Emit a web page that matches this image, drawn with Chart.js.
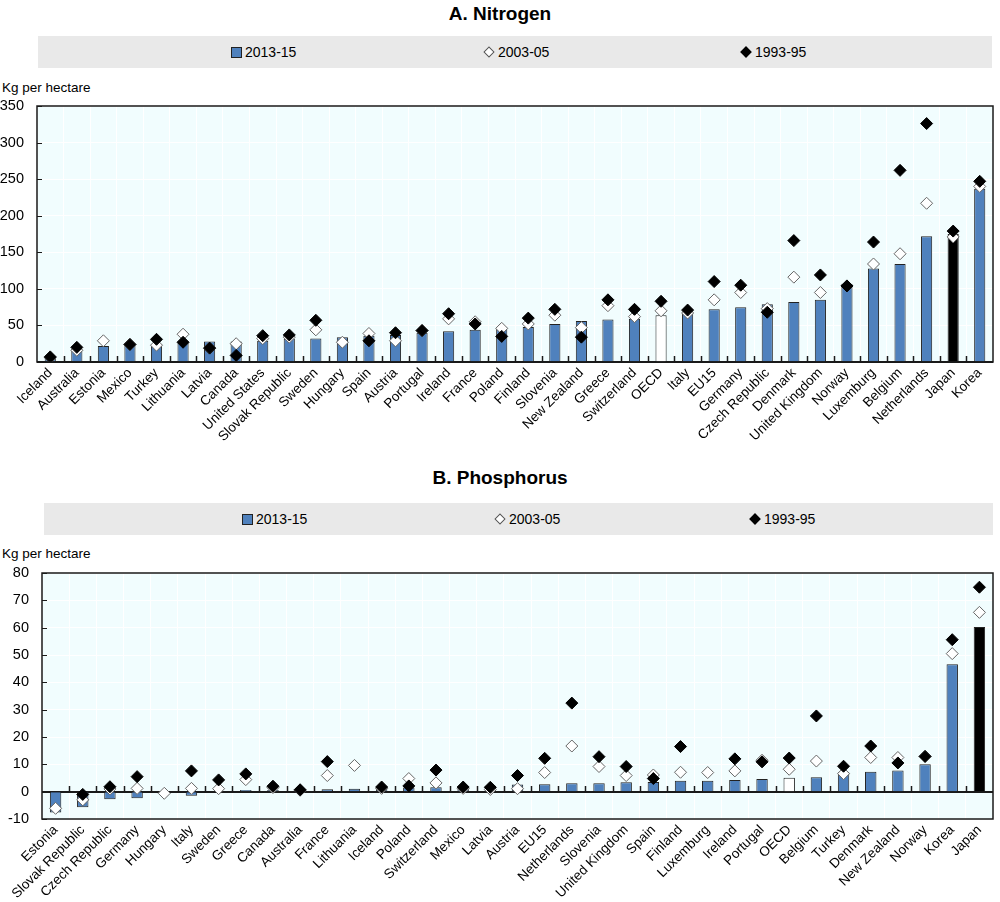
<!DOCTYPE html>
<html>
<head>
<meta charset="utf-8">
<script src="https://cdn.jsdelivr.net/npm/chart.js@4.4.1/dist/chart.umd.min.js"></script>
<style>
  html, body { margin:0; padding:0; background:#fff; width:1000px; height:902px; overflow:hidden; }
  body { position:relative; font-family:"Liberation Sans", Arial, sans-serif; color:#000; }
  .title { position:absolute; left:0; width:1000px; text-align:center; font-weight:bold; font-size:19px; }
  .legend { position:absolute; background:#e9e9e9; height:32px; }
  .item { position:absolute; top:0; height:32px; line-height:32px; font-size:14px; white-space:nowrap; }
  .sq { display:inline-block; width:9px; height:9px; background:#4f81bd; border:1px solid #222; margin-right:3px; vertical-align:-1px; }
  .dm { display:inline-block; width:6px; height:6px; transform:rotate(45deg); margin-right:5px; vertical-align:1px; }
  .dw { background:#fff; border:1px solid #555; }
  .db { background:#000; border:1px solid #000; }
  .unit { position:absolute; font-size:13.5px; left:2px; }
  canvas { position:absolute; left:0; }
</style>
</head>
<body>
<div class="title" style="top:3px;">A. Nitrogen</div>
<div class="legend" style="left:38px; top:36px; width:954px;">
  <div class="item" style="left:193px;"><span class="sq"></span>2013-15</div>
  <div class="item" style="left:447px;"><span class="dm dw"></span>2003-05</div>
  <div class="item" style="left:704px;"><span class="dm db"></span>1993-95</div>
</div>
<div class="unit" style="top:80px;">Kg per hectare</div>
<canvas id="c1" width="1000" height="354" style="top:96px;"></canvas>

<div class="title" style="top:467px;">B. Phosphorus</div>
<div class="legend" style="left:44px; top:503px; width:949px;">
  <div class="item" style="left:198px;"><span class="sq"></span>2013-15</div>
  <div class="item" style="left:452px;"><span class="dm dw"></span>2003-05</div>
  <div class="item" style="left:707px;"><span class="dm db"></span>1993-95</div>
</div>
<div class="unit" style="top:546px;">Kg per hectare</div>
<canvas id="c2" width="1000" height="342" style="top:560px;"></canvas>

<script>
// ---------- Data: A. Nitrogen ----------
const categoriesN = ['Iceland','Australia','Estonia','Mexico','Turkey','Lithuania','Latvia','Canada','United States','Slovak Republic','Sweden','Hungary','Spain','Austria','Portugal','Ireland','France','Poland','Finland','Slovenia','New Zealand','Greece','Switzerland','OECD','Italy','EU15','Germany','Czech Republic','Denmark','United Kingdom','Norway','Luxemburg','Belgium','Netherlands','Japan','Korea'];
const nitrogen2013 = [8,18,22,24,24,27,28,28,29,32,32,34,36,37,40,42,44,47,48,52,56,58,59,64,68,72,75,79,82,85,107,128,134,172,175,237];
const nitrogen2003 = [6,16,29,24,23,38,19,25,32,34,44,27,39,29,43,59,55,46,52,64,47,77,62,70,67,85,95,73,116,95,104,134,148,217,171,240];
const nitrogen1993 = [7,20,null,24,31,27,19,9,36,37,57,null,29,40,43,66,52,35,60,72,34,85,72,83,71,110,105,68,166,119,104,164,262,326,179,247];
const ticksN = [0,50,100,150,200,250,300,350];

// ---------- Data: B. Phosphorus ----------
const categoriesP = ['Estonia','Slovak Republic','Czech Republic','Germany','Hungary','Italy','Sweden','Greece','Canada','Australia','France','Lithuania','Iceland','Poland','Switzerland','Mexico','Latvia','Austria','EU15','Netherlands','Slovenia','United Kingdom','Spain','Finland','Luxemburg','Ireland','Portugal','OECD','Belgium','Turkey','Denmark','New Zealand','Norway','Korea','Japan'];
const phosphorus2013 = [-7.6,-5.7,-2.8,-2.4,-0.3,-1.5,0.1,0.6,0.6,0.3,0.9,1.1,1.5,1.5,1.6,1.5,2.2,2.6,2.7,3.1,3.1,3.4,3.5,4.0,4.0,4.3,4.6,5.1,5.3,7.1,7.3,7.7,10.0,46.6,60.2];
const phosphorus2003 = [-6.1,-3.0,1.0,1.2,-0.6,1.2,1.1,4.4,1.5,0.5,5.9,9.6,1.2,4.8,3.2,1.2,0.8,1.1,7.0,16.7,9.2,5.9,6.1,7.1,7.0,7.6,11.5,8.2,11.2,6.6,12.5,12.5,12.9,50.5,65.6];
const phosphorus1993 = [null,-1.0,1.8,5.5,null,7.6,4.3,6.5,2.0,0.7,11.0,null,1.7,2.1,7.9,1.7,1.6,5.9,12.2,32.4,12.8,9.2,4.8,16.5,null,12.0,10.9,12.3,27.7,9.3,16.7,10.5,12.9,55.6,74.8];
const ticksP = [-10,0,10,20,30,40,50,60,70,80];

const seriesLabels = ['2013-15','2003-05','1993-95'];

const FONT = '"Liberation Sans", Arial, sans-serif';
const BLUE = '#4f81bd';

function barColors(cats) {
  return cats.map(c => c === 'OECD' ? '#ffffff' : (c === 'Japan' ? '#000000' : BLUE));
}

const decor = {
  id: 'decor',
  beforeDraw(chart) {
    const a = chart.chartArea, ctx = chart.ctx;
    ctx.save();
    ctx.fillStyle = '#f1fdfe';
    ctx.fillRect(a.left, a.top, a.right - a.left, a.bottom - a.top);
    ctx.restore();
  },
  beforeDatasetsDraw(chart) {
    const a = chart.chartArea, ctx = chart.ctx;
    const x = chart.scales.x, y = chart.scales.y;
    const y0 = Math.round(y.getPixelForValue(0));
    ctx.save();
    ctx.strokeStyle = '#1a1a1a';
    ctx.lineWidth = 2;
    ctx.beginPath(); ctx.moveTo(a.left, y0); ctx.lineTo(a.right, y0); ctx.stroke();
    ctx.lineWidth = 1.5;
    const n = chart.data.labels.length;
    for (let i = 1; i < n; i++) {
      const xb = Math.round((x.getPixelForValue(i - 1) + x.getPixelForValue(i)) / 2) + 0.5;
      ctx.beginPath(); ctx.moveTo(xb, y0); ctx.lineTo(xb, y0 - 6); ctx.stroke();
    }
    ctx.restore();
  },
  afterDraw(chart) {
    const a = chart.chartArea, ctx = chart.ctx;
    const y = chart.scales.y;
    ctx.save();
    ctx.strokeStyle = '#1a1a1a';
    ctx.lineWidth = 1.5;
    ctx.strokeRect(a.left, a.top, a.right - a.left, a.bottom - a.top);
    ctx.lineWidth = 1;
    y.ticks.forEach(t => {
      const yy = Math.round(y.getPixelForValue(t.value)) + 0.5;
      ctx.beginPath(); ctx.moveTo(a.left, yy); ctx.lineTo(a.left + 5, yy); ctx.stroke();
    });
    ctx.restore();
  }
};

function makeChart(id, cats, v13, v03, v93, tickVals, yAxisWidth, xAxisHeight, padTop, padRight) {
  return new Chart(document.getElementById(id), {
    type: 'bar',
    data: {
      labels: cats,
      datasets: [
        { type: 'bar', label: seriesLabels[0], data: v13, backgroundColor: barColors(cats),
          borderColor: '#222', borderWidth: 1, barPercentage: 0.42, categoryPercentage: 1, order: 2 },
        { type: 'line', label: seriesLabels[1], data: v03, showLine: false, pointStyle: 'rectRot',
          pointRadius: 6, pointBackgroundColor: '#fff', pointBorderColor: '#666', pointBorderWidth: 1, order: 1 },
        { type: 'line', label: seriesLabels[2], data: v93, showLine: false, pointStyle: 'rectRot',
          pointRadius: 6, pointBackgroundColor: '#000', pointBorderColor: '#000', pointBorderWidth: 1, order: 0 }
      ]
    },
    options: {
      responsive: false, animation: false, devicePixelRatio: 1,
      layout: { padding: { top: padTop, right: padRight, left: 0, bottom: 0 } },
      plugins: { legend: { display: false }, tooltip: { enabled: false } },
      scales: {
        x: {
          offset: true,
          grid: { color: '#ffffff', lineWidth: 1, drawTicks: false, offset: true },
          border: { display: false },
          ticks: { autoSkip: false, maxRotation: 45, minRotation: 45, color: '#000', padding: 3,
                   font: { size: 13.5, family: FONT } },
          afterFit(s) { s.height = xAxisHeight; s.paddingLeft = 0; s.paddingRight = 0; }
        },
        y: {
          min: tickVals[0], max: tickVals[tickVals.length - 1],
          afterBuildTicks(s) { s.ticks = tickVals.map(v => ({ value: v })); },
          grid: { color: '#ffffff', lineWidth: 1, drawTicks: false },
          border: { display: false },
          ticks: { color: '#000', padding: 13, font: { size: 14.5, family: FONT } },
          afterFit(s) { s.width = yAxisWidth; s.paddingTop = 0; s.paddingBottom = 0; }
        }
      }
    },
    plugins: [decor]
  });
}

makeChart('c1', categoriesN, nitrogen2013, nitrogen2003, nitrogen1993, ticksN, 37, 88, 10, 7);
makeChart('c2', categoriesP, phosphorus2013, phosphorus2003, phosphorus1993, ticksP, 42, 83, 13, 2);
</script>
</body>
</html>
